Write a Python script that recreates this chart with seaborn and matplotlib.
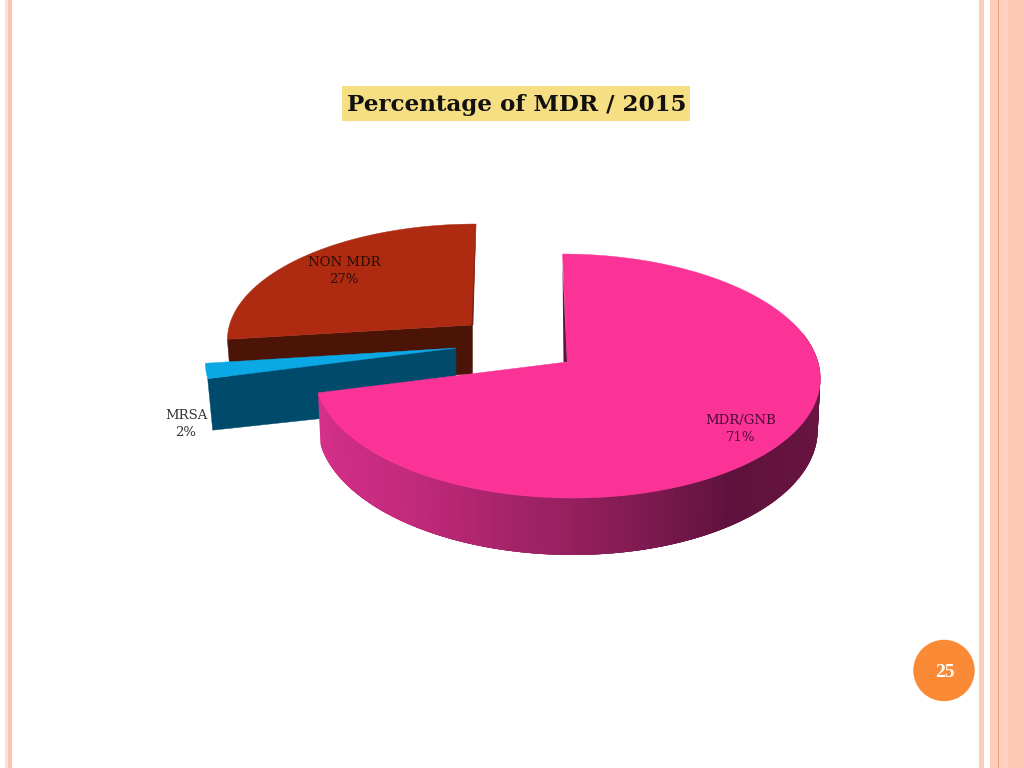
import numpy as np
import matplotlib
matplotlib.use("Agg")
import matplotlib.pyplot as plt
import seaborn as sns
from matplotlib.patches import Polygon, Rectangle, Circle

labels = ["MDR/GNB", "MRSA", "NON MDR"]
values = [71, 2, 27]
title = "Percentage of MDR / 2015"
page_number = "25"

top_colors = ["#fc3397", "#0aa9e6", "#ae2b12"]
wall_colors = ["#5f123d", "#004b6b", "#4c1307"]
side_stops = ["#6a1540", "#681540", "#5f123d", "#962060", "#c42a7c", "#d4308a"]

sns.set_theme(style="white")
plt.rcParams["font.family"] = ["DejaVu Serif"]

K = 0.115


def angles():
    # clockwise from 12 o'clock, like the office pie
    edges = np.cumsum([0] + values) / sum(values) * 2 * np.pi
    return edges


def project(theta, cx, cy, rx, ry, tilt=0):
    x = np.sin(theta)
    y = np.cos(theta)
    den = 1 + K * y
    return cx + (rx * x + tilt * y) / den, cy - ry * y / den


def drop(px, py, theta, cx, depth, shrink):
    # lower rim of the disc, a bit narrower and deeper towards the viewer
    den = 1 + K * np.cos(theta)
    return cx + shrink * (px - cx), py + depth / den


edges = angles()

fig = plt.figure(figsize=(10.24, 7.68), dpi=100)
ax = fig.add_axes([0, 0, 1, 1])
ax.set_xlim(0, 1024)
ax.set_ylim(768, 0)
ax.axis("off")

# slide frame
for x0, x1, col in [(5, 7.5, "#f9e2d6"), (8, 12, "#fdc6b0"), (979, 984, "#fcccb9"),
                    (990, 998, "#fdcdb9"), (999, 1008, "#fdd0bf"), (1008, 1024, "#fec8b4")]:
    ax.add_patch(Rectangle((x0, 0), x1 - x0, 768, color=col, lw=0))
ax.add_patch(Rectangle((998, 0), 1.2, 768, color="#f5a070", lw=0))

# NON MDR slice
cx, cy, rx, ry, depth = 472.5, 325, 243, 112.6, 44
th = np.linspace(edges[2], edges[3], 80)
px, py = project(th, cx, cy, rx, ry, tilt=4)
bx, by = drop(px[0], py[0], th[0], cx, depth, 0.985)
ax.add_patch(Polygon([(px[0], py[0]), (cx, cy), (cx, cy + depth * 1.12), (bx, by)],
                     fc=wall_colors[2], ec=wall_colors[2], lw=0.3))
ax.add_patch(Polygon(np.r_[[[cx, cy]], np.c_[px, py]], fc=top_colors[2], ec=top_colors[2], lw=0.3))
ax.add_patch(Polygon([(px[-1], py[-1]), (cx + 0.8, cy), (cx - 1, cy), (px[-1] - 0.5, py[-1] + 8)],
                     fc="#7a2010", lw=0))

# MRSA slice
cx, cy, rx, ry, depth = 456, 348, 249, 120, 50
th = np.linspace(edges[1], edges[2], 12)
px, py = project(th, cx, cy, rx, ry)
bx, by = drop(px[0], py[0], th[0], cx, depth, 0.98)
ax.add_patch(Polygon([(px[0], py[0]), (cx, cy), (cx, cy + depth * 1.12), (bx, by)],
                     fc=wall_colors[1], ec=wall_colors[1], lw=0.3))
ax.add_patch(Polygon(np.r_[[[cx, cy]], np.c_[px, py]], fc=top_colors[1], ec=top_colors[1], lw=0.3))

# MDR/GNB slice, outer wall in overlapping strips for the shading
cx, cy, rx, ry, depth = 567, 362, 251, 120.4, 50.4
th = np.linspace(np.pi * 0.42, edges[1], 200)
shade = sns.blend_palette(side_stops, n_colors=len(th) - 1)
px, py = project(th, cx, cy, rx, ry, tilt=-5)
bx, by = drop(px, py, th, cx, depth, 0.99)
for i in range(len(th) - 1):
    j = max(i - 3, 0)
    ax.add_patch(Polygon([(px[j], py[j]), (px[i + 1], py[i + 1]), (bx[i + 1], by[i + 1]), (bx[j], by[j])],
                         fc=shade[i], lw=0))
th = np.linspace(edges[0], edges[1], 200)
px, py = project(th, cx, cy, rx, ry, tilt=-5)
ax.add_patch(Polygon(np.r_[[[cx, cy]], np.c_[px, py]], fc=top_colors[0], ec=top_colors[0], lw=0.3))
# inner wall seen along the back edge
ax.add_patch(Polygon([(px[0], py[0] + 10), (cx - 3.5, cy), (cx, cy)], fc=wall_colors[0], lw=0))

# slice labels
label_pos = [(741, 429), (186, 424), (344, 271)]
label_cols = ["#4a0c35", "#333333", "#2b0d06"]
for name, v, (lx, ly), col in zip(labels, values, label_pos, label_cols):
    ax.text(lx, ly, f"{name}\n{v}%", ha="center", va="center", fontsize=9.5, color=col, linespacing=1.42)

# title box
ax.add_patch(Rectangle((342, 86), 348, 35, color="#f6de82", lw=0))
ax.text(517, 104.5, title, ha="center", va="center", fontsize=16.6, fontweight="bold", color="#111111")

# page number
ax.add_patch(Circle((944, 670.5), 30.7, color="#fa8a35", lw=0))
ax.text(944.5, 672.5, page_number, ha="center", va="center", fontsize=14, fontweight="bold",
        color="white", family="Liberation Serif")

fig.savefig("out.png", dpi=100, facecolor="white")
